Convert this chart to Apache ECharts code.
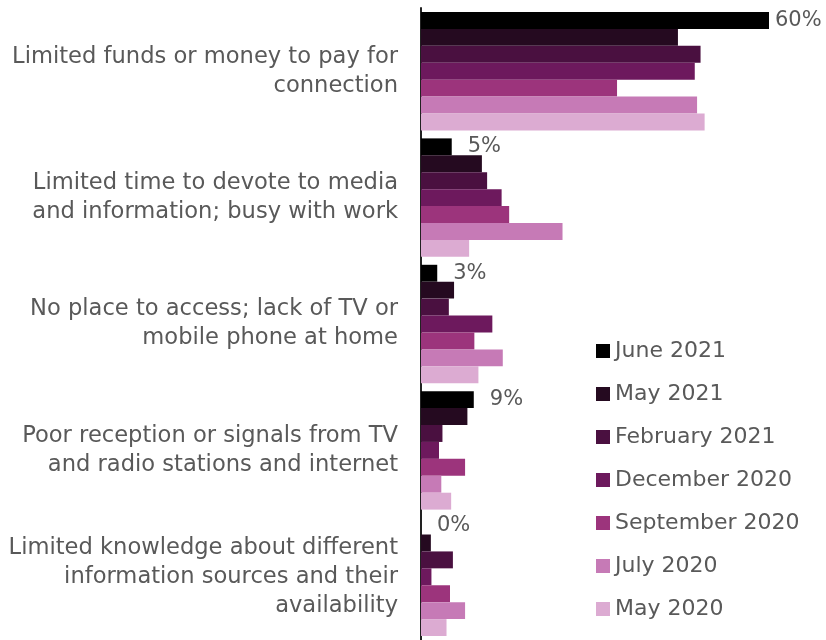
<!DOCTYPE html>
<html>
<head>
<meta charset="utf-8">
<script src="https://cdn.jsdelivr.net/npm/echarts@6/dist/echarts.min.js"></script>
<style>html,body{margin:0;padding:0;background:#fff}#c{width:826px;height:640px}</style>
</head>
<body>
<div id="c"></div>
<script>
const categories = [
  "Limited funds or money to pay for\nconnection",
  "Limited time to devote to media\nand information; busy with work",
  "No place to access; lack of TV or\nmobile phone at home",
  "Poor reception or signals from TV\nand radio stations and internet",
  "Limited knowledge about different\ninformation sources and their\navailability"
];
const seriesNames = ["June 2021","May 2021","February 2021","December 2020","September 2020","July 2020","May 2020"];
const june2021 = [60, 5.3, 2.8, 9.1, 0];
const may2021 = [44.3, 10.5, 5.7, 8.0, 1.7];
const feb2021 = [48.2, 11.4, 4.8, 3.7, 5.5];
const dec2020 = [47.2, 13.9, 12.3, 3.1, 1.8];
const sep2020 = [33.8, 15.2, 9.2, 7.6, 5.0];
const jul2020 = [47.6, 24.4, 14.1, 3.5, 7.6];
const may2020 = [48.9, 8.3, 9.9, 5.2, 4.4];
const seriesData = [june2021, may2021, feb2021, dec2020, sep2020, jul2020, may2020];
const colors = ["#000000","#250a20","#4a1040","#6d195d","#9c347c","#c67ab6","#dcabd2"];

const FONT = "DejaVu Sans";
const series = seriesData.map((d, i) => ({
  name: seriesNames[i],
  type: 'bar',
  barGap: '0%',
  barCategoryGap: '6.3%',
  itemStyle: { color: colors[i] },
  data: i === 0 ? d.map((v, j) => ({
    value: v,
    label: { show: true, position: 'right', distance: j === 0 ? 6 : 16,
      formatter: p => Math.round(p.value) + '%',
      fontFamily: FONT, fontSize: 21, color: '#595959' }
  })) : d
}));

const chart = echarts.init(document.getElementById('c'));
chart.setOption({
  animation: false,
  color: colors,
  grid: { left: 421, right: 57, top: 8, bottom: 0, containLabel: false },
  xAxis: { type: 'value', min: 0, max: 60, show: false },
  yAxis: {
    type: 'category', data: categories, inverse: true,
    axisLine: { show: true, lineStyle: { color: '#222', width: 2 } },
    axisTick: { show: false },
    axisLabel: { margin: 23, fontFamily: FONT, fontSize: 22.6, color: '#595959', lineHeight: 29, align: 'right' }
  },
  legend: {
    orient: 'vertical', left: 591, top: 335,
    itemWidth: 14, itemHeight: 14, itemGap: 21,
    icon: 'rect',
    textStyle: { fontFamily: FONT, fontSize: 22, color: '#595959', lineHeight: 22 },
    data: seriesNames
  },
  series: series
});
</script>
</body>
</html>
